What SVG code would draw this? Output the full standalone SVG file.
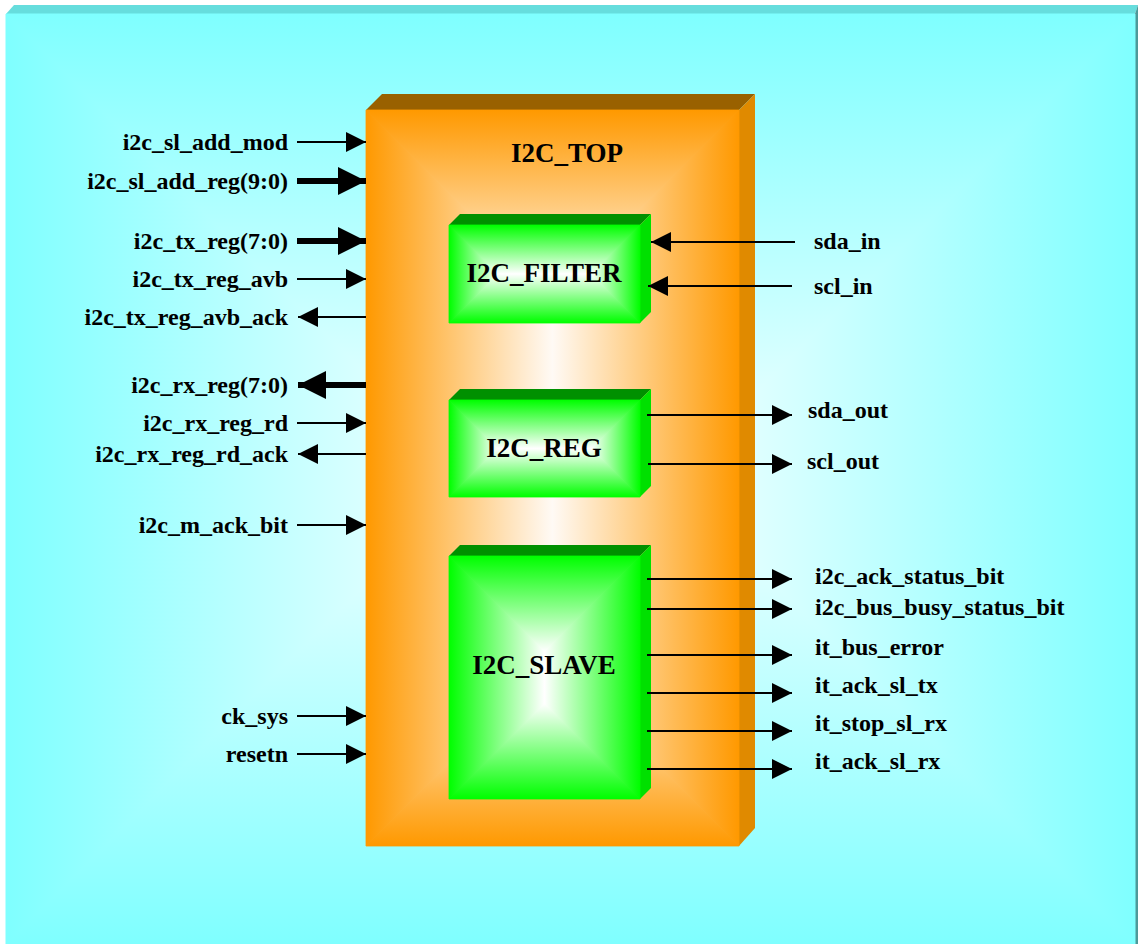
<svg xmlns="http://www.w3.org/2000/svg" width="1138" height="944" viewBox="0 0 1138 944">
<style>
text{font-family:"Liberation Serif","Times New Roman",serif;font-weight:bold;fill:#000}
.lbl{font-size:24px}
.l{text-anchor:end}
.ttl{font-size:27px;text-anchor:middle}
.w{stroke:#000;stroke-width:2;fill:none;marker-end:url(#ah)}
.W{stroke:#000;stroke-width:6;fill:none;marker-end:url(#AH)}
</style>
<defs>
<linearGradient id="cL" x1="0" y1="0" x2="1" y2="0"><stop offset="0" stop-color="#7fffff"/><stop offset="1" stop-color="#f4ffff"/></linearGradient>
<linearGradient id="cR" href="#cL" x1="1" y1="0" x2="0" y2="0"/>
<linearGradient id="cT" href="#cL" x1="0" y1="0" x2="0" y2="1"/>
<linearGradient id="cB" href="#cL" x1="0" y1="1" x2="0" y2="0"/>
<linearGradient id="oL" x1="0" y1="0" x2="1" y2="0"><stop offset="0" stop-color="#ff9900"/><stop offset="1" stop-color="#fffaf5"/></linearGradient>
<linearGradient id="oR" href="#oL" x1="1" y1="0" x2="0" y2="0"/>
<linearGradient id="oT" href="#oL" x1="0" y1="0" x2="0" y2="1"/>
<linearGradient id="oB" href="#oL" x1="0" y1="1" x2="0" y2="0"/>
<linearGradient id="gL" x1="0" y1="0" x2="1" y2="0"><stop offset="0" stop-color="#00ff00"/><stop offset="1" stop-color="#ffffff"/></linearGradient>
<linearGradient id="gR" href="#gL" x1="1" y1="0" x2="0" y2="0"/>
<linearGradient id="gT" href="#gL" x1="0" y1="0" x2="0" y2="1"/>
<linearGradient id="gB" href="#gL" x1="0" y1="1" x2="0" y2="0"/>
<marker id="ah" markerUnits="userSpaceOnUse" markerWidth="20" markerHeight="20" refX="20" refY="10" orient="auto" viewBox="0 0 20 20"><path d="M0,0 L20,10 L0,20 z" fill="#000"/></marker>
<marker id="AH" markerUnits="userSpaceOnUse" markerWidth="28" markerHeight="28" refX="28" refY="14" orient="auto" viewBox="0 0 28 28"><path d="M0,0 L28,14 L0,28 z" fill="#000"/></marker>
</defs>
<rect width="1138" height="944" fill="#ffffff"/>
<g id="background">
<polygon points="6,14 14,5 1138,5 1135,14" fill="#66dddd"/>
<polygon points="1135,14 1138,5 1138,944 1135,944" fill="#4c9999"/>
<polygon points="6,14 471,479 6,944" fill="url(#cL)" stroke="url(#cL)"/>
<polygon points="1135,14 670,479 1135,944" fill="url(#cR)" stroke="url(#cR)"/>
<polygon points="6,14 1135,14 670,479 471,479" fill="url(#cT)" stroke="url(#cT)"/>
<polygon points="6,944 1135,944 670,479 471,479" fill="url(#cB)" stroke="url(#cB)"/>
</g>
<g id="i2c_top">
<polygon points="366,110 382,94 755,94 739,110" fill="#996100"/>
<polygon points="739,110 755,94 755,828 739,846" fill="#e08a00"/>
<polygon points="366,110 552.5,296.5 552.5,659.5 366,846" fill="url(#oL)" stroke="url(#oL)" stroke-width="0.8"/>
<polygon points="739,110 552.5,296.5 552.5,659.5 739,846" fill="url(#oR)" stroke="url(#oR)" stroke-width="0.8"/>
<polygon points="366,110 739,110 552.5,296.5" fill="url(#oT)" stroke="url(#oT)" stroke-width="0.8"/>
<polygon points="366,846 739,846 552.5,659.5" fill="url(#oB)" stroke="url(#oB)" stroke-width="0.8"/>
<text class="ttl" x="567" y="162">I2C_TOP</text>
</g>
<g id="i2c_filter">
<polygon points="449,225 460,214 651,214 640,225" fill="#009000"/>
<polygon points="640,225 651,214 651,312 640,323" fill="#00e000"/>
<polygon points="449,225 498,274 449,323" fill="url(#gL)" stroke="url(#gL)" stroke-width="0.8"/>
<polygon points="640,225 591,274 640,323" fill="url(#gR)" stroke="url(#gR)" stroke-width="0.8"/>
<polygon points="449,225 640,225 591,274 498,274" fill="url(#gT)" stroke="url(#gT)" stroke-width="0.8"/>
<polygon points="449,323 640,323 591,274 498,274" fill="url(#gB)" stroke="url(#gB)" stroke-width="0.8"/>
<text class="ttl" x="544" y="282">I2C_FILTER</text>
</g>
<g id="i2c_reg">
<polygon points="449,400 460,389 651,389 640,400" fill="#009000"/>
<polygon points="640,400 651,389 651,486 640,497" fill="#00e000"/>
<polygon points="449,400 497.5,448.5 449,497" fill="url(#gL)" stroke="url(#gL)" stroke-width="0.8"/>
<polygon points="640,400 591.5,448.5 640,497" fill="url(#gR)" stroke="url(#gR)" stroke-width="0.8"/>
<polygon points="449,400 640,400 591.5,448.5 497.5,448.5" fill="url(#gT)" stroke="url(#gT)" stroke-width="0.8"/>
<polygon points="449,497 640,497 591.5,448.5 497.5,448.5" fill="url(#gB)" stroke="url(#gB)" stroke-width="0.8"/>
<text class="ttl" x="544" y="457">I2C_REG</text>
</g>
<g id="i2c_slave">
<polygon points="449,556 460,545 651,545 640,556" fill="#009000"/>
<polygon points="640,556 651,545 651,788 640,799" fill="#00e000"/>
<polygon points="449,556 544.5,651.5 544.5,703.5 449,799" fill="url(#gL)" stroke="url(#gL)" stroke-width="0.8"/>
<polygon points="640,556 544.5,651.5 544.5,703.5 640,799" fill="url(#gR)" stroke="url(#gR)" stroke-width="0.8"/>
<polygon points="449,556 640,556 544.5,651.5" fill="url(#gT)" stroke="url(#gT)" stroke-width="0.8"/>
<polygon points="449,799 640,799 544.5,703.5" fill="url(#gB)" stroke="url(#gB)" stroke-width="0.8"/>
<text class="ttl" x="544" y="674">I2C_SLAVE</text>
</g>
<g id="connectors">
<line class="w" x1="297" y1="142" x2="366" y2="142"/>
<line class="W" x1="297" y1="181" x2="366" y2="181"/>
<line class="W" x1="297" y1="241" x2="366" y2="241"/>
<line class="w" x1="297" y1="279" x2="366" y2="279"/>
<line class="w" x1="366" y1="317" x2="298" y2="317"/>
<line class="W" x1="366" y1="385" x2="298" y2="385"/>
<line class="w" x1="297" y1="423" x2="366" y2="423"/>
<line class="w" x1="366" y1="454" x2="298" y2="454"/>
<line class="w" x1="297" y1="525" x2="366" y2="525"/>
<line class="w" x1="297" y1="716" x2="366" y2="716"/>
<line class="w" x1="297" y1="754" x2="366" y2="754"/>
<line class="w" x1="795" y1="242" x2="651" y2="242"/>
<line class="w" x1="792" y1="286" x2="648" y2="286"/>
<line class="w" x1="647" y1="415" x2="792" y2="415"/>
<line class="w" x1="648" y1="464" x2="792" y2="464"/>
<line class="w" x1="647" y1="579" x2="792" y2="579"/>
<line class="w" x1="647" y1="609" x2="792" y2="609"/>
<line class="w" x1="647" y1="655" x2="792" y2="655"/>
<line class="w" x1="647" y1="693" x2="792" y2="693"/>
<line class="w" x1="647" y1="731" x2="792" y2="731"/>
<line class="w" x1="647" y1="769" x2="792" y2="769"/>
</g>
<g id="port_labels" class="lbl">
<text class="lbl l" x="288" y="150">i2c_sl_add_mod</text>
<text class="lbl l" x="288" y="189">i2c_sl_add_reg(9:0)</text>
<text class="lbl l" x="288" y="249">i2c_tx_reg(7:0)</text>
<text class="lbl l" x="288" y="287">i2c_tx_reg_avb</text>
<text class="lbl l" x="288" y="325">i2c_tx_reg_avb_ack</text>
<text class="lbl l" x="288" y="393">i2c_rx_reg(7:0)</text>
<text class="lbl l" x="288" y="431">i2c_rx_reg_rd</text>
<text class="lbl l" x="288" y="462">i2c_rx_reg_rd_ack</text>
<text class="lbl l" x="288" y="533">i2c_m_ack_bit</text>
<text class="lbl l" x="288" y="724">ck_sys</text>
<text class="lbl l" x="288" y="762">resetn</text>
<text class="lbl" x="814" y="249">sda_in</text>
<text class="lbl" x="814" y="294">scl_in</text>
<text class="lbl" x="808" y="418">sda_out</text>
<text class="lbl" x="807" y="469">scl_out</text>
<text class="lbl" x="815" y="584">i2c_ack_status_bit</text>
<text class="lbl" x="815" y="615">i2c_bus_busy_status_bit</text>
<text class="lbl" x="815" y="655">it_bus_error</text>
<text class="lbl" x="815" y="693">it_ack_sl_tx</text>
<text class="lbl" x="815" y="731">it_stop_sl_rx</text>
<text class="lbl" x="815" y="769">it_ack_sl_rx</text>
</g>
</svg>
